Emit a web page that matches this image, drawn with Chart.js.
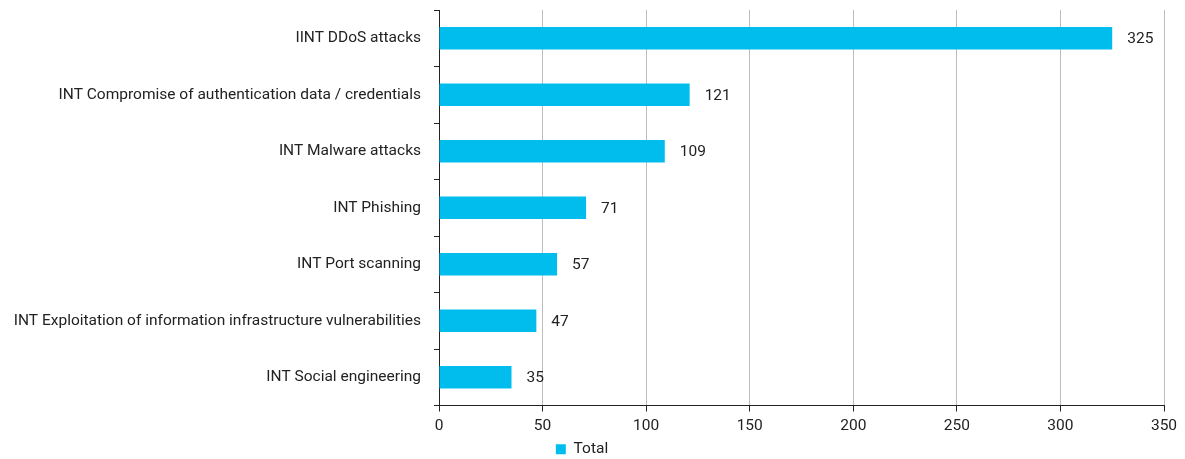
<!DOCTYPE html>
<html>
<head>
<meta charset="utf-8">
<script src="https://cdn.jsdelivr.net/npm/chart.js@4.4.1/dist/chart.umd.min.js"></script>
<style>
  html, body { margin: 0; padding: 0; background: #fff; }
  #wrap { width: 1185px; height: 459px; }
</style>
</head>
<body>
<div id="wrap"><canvas id="attackChart"></canvas></div>
<script>
const categories = [
  'IINT DDoS attacks',
  'INT Compromise of authentication data / credentials',
  'INT Malware attacks',
  'INT Phishing',
  'INT Port scanning',
  'INT Exploitation of information infrastructure vulnerabilities',
  'INT Social engineering'
];
const totals = [325, 121, 109, 71, 57, 47, 35];
const xTicks = [0, 50, 100, 150, 200, 250, 300, 350];

const fontFamily = "'Roboto', 'Noto Sans', sans-serif";

// draws the number at the end of each bar
const valueLabels = {
  id: 'valueLabels',
  afterDatasetsDraw(chart) {
    const ctx = chart.ctx;
    const meta = chart.getDatasetMeta(0);
    ctx.save();
    ctx.font = '15.5px ' + fontFamily;
    ctx.fillStyle = '#222';
    ctx.textBaseline = 'middle';
    ctx.textAlign = 'left';
    meta.data.forEach((bar, i) => {
      ctx.fillText(String(totals[i]), bar.x + 15, bar.y + 1);
    });
    ctx.restore();
  }
};

new Chart(document.getElementById('attackChart'), {
  type: 'bar',
  data: {
    labels: categories,
    datasets: [{
      label: 'Total',
      data: totals,
      backgroundColor: '#00BDEE',
      borderWidth: 0,
      categoryPercentage: 1,
      barPercentage: 0.4
    }]
  },
  options: {
    indexAxis: 'y',
    responsive: true,
    maintainAspectRatio: false,
    animation: false,
    layout: { padding: { top: 10, right: 21, left: 0, bottom: -8 } },
    plugins: {
      legend: {
        position: 'bottom',
        labels: {
          boxWidth: 10,
          boxHeight: 10,
          padding: 2,
          color: '#222',
          font: { family: fontFamily, size: 15.5 }
        }
      },
      tooltip: { enabled: false }
    },
    scales: {
      x: {
        min: 0,
        max: 350,
        afterBuildTicks: s => { s.ticks = xTicks.map(v => ({ value: v })); },
        afterFit: s => { s.height = 34; },
        grid: {
          color: '#bdbdbd',
          lineWidth: 1,
          tickLength: 6,
          tickColor: '#222'
        },
        border: { color: '#222', width: 1 },
        ticks: {
          color: '#222',
          padding: 5,
          maxRotation: 0,
          font: { family: fontFamily, size: 15.5 }
        }
      },
      y: {
        afterFit: s => { s.width = 439; s.paddingTop = 0; s.paddingBottom = 0; },
        grid: {
          offset: true,
          drawOnChartArea: false,
          tickLength: 5,
          tickColor: '#222'
        },
        border: { color: '#222', width: 1 },
        ticks: {
          color: '#222',
          padding: 13,
          font: { family: fontFamily, size: 15.5 }
        }
      }
    }
  },
  plugins: [valueLabels]
});
</script>
</body>
</html>
